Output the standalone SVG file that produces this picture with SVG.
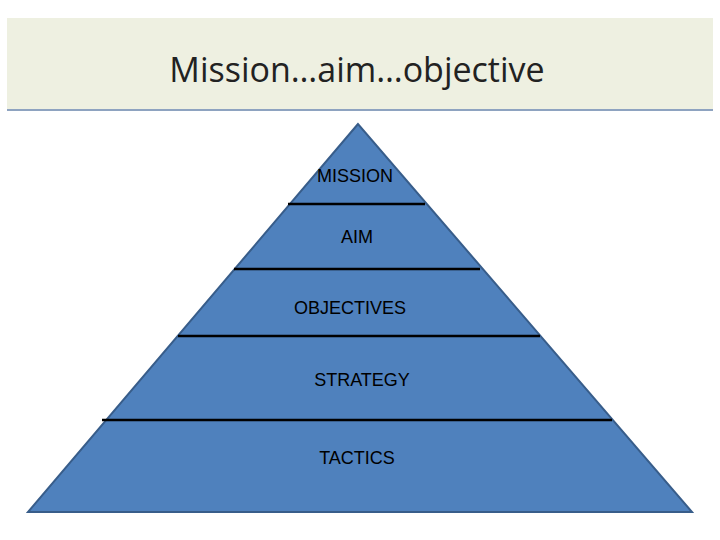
<svg xmlns="http://www.w3.org/2000/svg" width="720" height="540" viewBox="0 0 720 540">
<style>
.lbl{font-family:"Liberation Sans",Arial,sans-serif;font-size:18px;fill:#000;text-anchor:middle}
.sep{stroke:#000;stroke-width:2.5}
</style>
<rect width="720" height="540" fill="#fff"/>
<g id="banner">
<rect x="7" y="18" width="706" height="92" fill="#EEF0E1"/>
<line x1="7" y1="110" x2="713" y2="110" stroke="#8EA3C0" stroke-width="2"/>
<text x="357" y="82" font-family="'Open Sans',sans-serif" font-size="34" fill="#222" text-anchor="middle">Mission…aim…objective</text>
</g>
<g id="pyramid">
<polygon points="358,124 28,512 692,512" fill="#4F81BD" stroke="#385D8A" stroke-width="2"/>
</g>
<g id="connectors">
<line class="sep" x1="288" y1="204" x2="425" y2="204"/>
<line class="sep" x1="234" y1="269" x2="480" y2="269"/>
<line class="sep" x1="178" y1="336" x2="540" y2="336"/>
<line class="sep" x1="102" y1="420" x2="612" y2="420"/>
</g>
<g id="n1"><text class="lbl" x="355" y="182">MISSION</text></g>
<g id="n2"><text class="lbl" x="357" y="243">AIM</text></g>
<g id="n3"><text class="lbl" x="350" y="314">OBJECTIVES</text></g>
<g id="n4"><text class="lbl" x="362" y="386">STRATEGY</text></g>
<g id="n5"><text class="lbl" x="357" y="464">TACTICS</text></g>
</svg>
